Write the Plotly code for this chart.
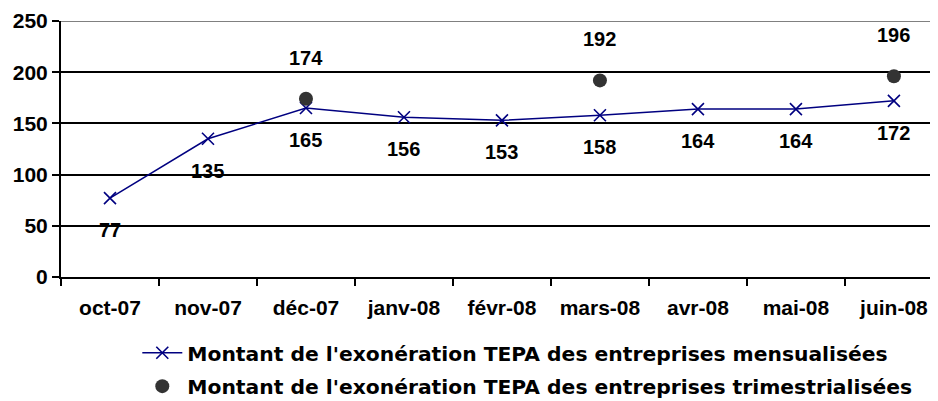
import plotly.graph_objects as go

months = ["oct-07", "nov-07", "déc-07", "janv-08", "févr-08", "mars-08", "avr-08", "mai-08", "juin-08"]
mensuel = [77, 135, 165, 156, 153, 158, 164, 164, 172]
trim_months = ["déc-07", "mars-08", "juin-08"]
trimestriel = [174, 192, 196]
y_ticks = [0, 50, 100, 150, 200, 250]

FONT = "Liberation Sans, Arial, sans-serif"
LEG_FONT = "DejaVu Sans, Verdana, sans-serif"

fig = go.Figure()
fig.add_trace(go.Scatter(
    x=months, y=mensuel, mode="lines+markers",
    name="Montant de l'exonération TEPA des entreprises mensualisées",
    legendgroup="m",
    line=dict(color="#000080", width=1.5),
    marker=dict(symbol="x-thin", size=12, line=dict(color="#000080", width=1.6)),
))
fig.add_trace(go.Scatter(
    x=trim_months, y=trimestriel, mode="markers",
    name="Montant de l'exonération TEPA des entreprises trimestrialisées",
    legendgroup="t",
    marker=dict(symbol="circle", size=14, color="#333333"),
))

for m, v in zip(months, mensuel):
    fig.add_annotation(x=m, y=v, text=str(v), showarrow=False, yshift=-32,
                       font=dict(family=FONT, size=20, color="black", weight="bold"))
for m, v in zip(trim_months, trimestriel):
    fig.add_annotation(x=m, y=v, text=str(v), showarrow=False, yshift=41,
                       font=dict(family=FONT, size=20, color="black", weight="bold"))

fig.add_shape(type="line", xref="paper", x0=0, x1=1, yref="y", y0=250, y1=250,
              line=dict(color="#808080", width=2))

# page body has an 8px default margin; compensate so the plot lands where the reference has it
fig.update_layout(
    width=930, height=401,
    margin=dict(l=53, r=0, t=13, b=132),
    paper_bgcolor="white", plot_bgcolor="white",
    font=dict(family=FONT, size=20, color="black", weight="bold"),
    showlegend=True,
    legend=dict(x=0.087, xanchor="left", y=-0.219, yanchor="top",
                font=dict(family=LEG_FONT, size=20.3, color="black", weight="bold"),
                traceorder="grouped", tracegroupgap=4, itemwidth=40,
                bgcolor="rgba(0,0,0,0)"),
)
fig.update_xaxes(
    categoryorder="array", categoryarray=months,
    showline=True, linecolor="black", linewidth=2,
    ticks="outside", tickson="boundaries", ticklen=7, tickcolor="black", tickwidth=2,
    ticklabelstandoff=11,
    tickfont=dict(family=FONT, size=21, color="black", weight="bold"),
    showgrid=False, range=[-0.5, 8.45], automargin=False,
)
fig.update_yaxes(
    range=[0, 250], tickvals=y_ticks,
    showline=True, linecolor="black", linewidth=2,
    ticks="outside", ticklen=7, tickcolor="black", tickwidth=2,
    tickfont=dict(family=FONT, size=21, color="black", weight="bold"),
    showgrid=True, gridcolor="black", gridwidth=2, zeroline=False, automargin=False,
)

fig.write_html("out.html")
